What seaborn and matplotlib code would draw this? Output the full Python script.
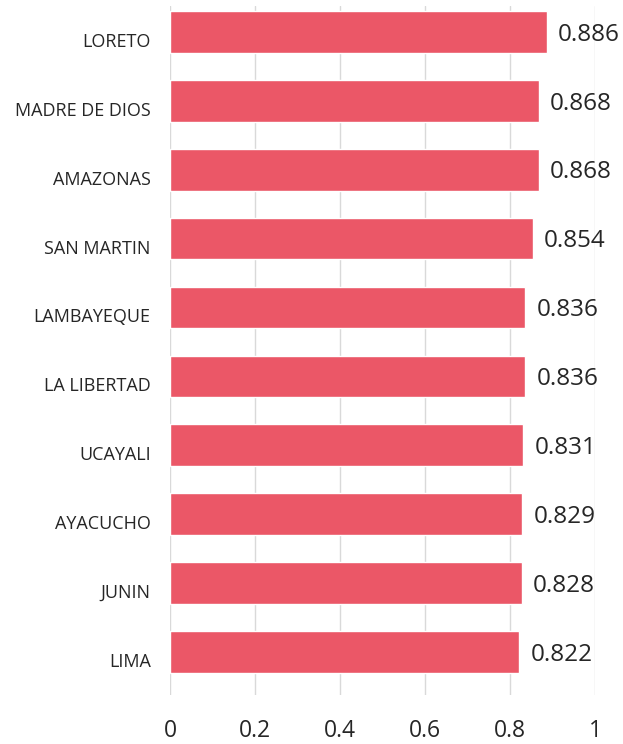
import matplotlib
matplotlib.use("Agg")
import matplotlib.pyplot as plt
import matplotlib.transforms as mtransforms
import pandas as pd
import seaborn as sns

regions = ["LORETO", "MADRE DE DIOS", "AMAZONAS", "SAN MARTIN", "LAMBAYEQUE",
           "LA LIBERTAD", "UCAYALI", "AYACUCHO", "JUNIN", "LIMA"]
values = [0.886, 0.868, 0.868, 0.854, 0.836, 0.836, 0.831, 0.829, 0.828, 0.822]
xticks = [0, 0.2, 0.4, 0.6, 0.8, 1]
xtick_labels = ["0", "0.2", "0.4", "0.6", "0.8", "1"]

sns.set_style("white")
plt.rcParams["font.family"] = ["Open Sans", "DejaVu Sans"]

df = pd.DataFrame({"region": regions, "value": values})

fig = plt.figure(figsize=(6.23, 7.44), dpi=100)
ax = fig.add_axes([0.273, 0.066, 0.682, 0.926])

sns.barplot(data=df, x="value", y="region", color="#EB5767", saturation=1,
            width=0.605, ax=ax, zorder=3)

ax.set_xlim(0, 1)
ax.set_ylim(9.624, -0.377)
ax.set_xticks(xticks)
ax.set_xticklabels(xtick_labels, fontsize=16.5, color="#262626")
ax.tick_params(axis="y", labelsize=13, colors="#262626", length=0, pad=14)
ax.tick_params(axis="x", length=0, pad=17)
ax.set_xlabel("")
ax.set_ylabel("")
ax.grid(axis="x", color="#D9D9D9", linewidth=1, zorder=0)
for s in ax.spines.values():
    s.set_visible(False)

# category labels sit a bit below bar centres, like the original
shift = mtransforms.ScaledTranslation(0, -8 / 100, fig.dpi_scale_trans)
for lbl in ax.get_yticklabels():
    lbl.set_transform(lbl.get_transform() + shift)

for i, v in enumerate(values):
    ax.annotate(f"{v:.3f}", xy=(v, i), xytext=(8, -2), textcoords="offset points",
                ha="left", va="center", fontsize=17.5, color="#262626")

fig.savefig("out.png", dpi=100)
